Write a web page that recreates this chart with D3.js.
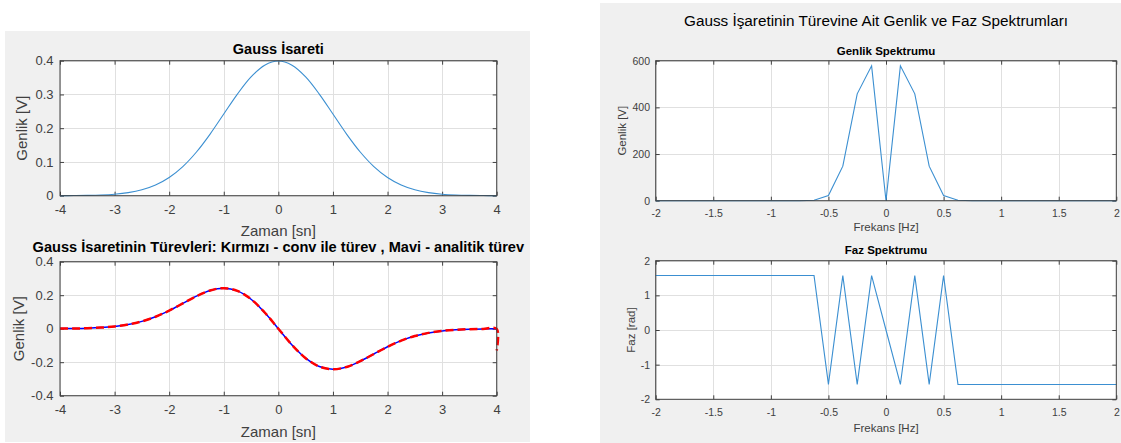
<!DOCTYPE html>
<html>
<head>
<meta charset="utf-8">
<script src="https://cdn.jsdelivr.net/npm/d3@7"></script>
<style>
  html, body { margin: 0; padding: 0; background: #ffffff; }
  svg { display: block; }
  text { font-family: "Liberation Sans", Arial, Helvetica, sans-serif; }
</style>
</head>
<body>
<svg id="chart" width="1121" height="443"></svg>
<script>
// ---- Time-domain samples (seconds) ----
const time = [-4, -3.75, -3.5, -3.25, -3, -2.75, -2.5, -2.25, -2, -1.75, -1.5, -1.25, -1, -0.75, -0.5, -0.25,
              0, 0.25, 0.5, 0.75, 1, 1.25, 1.5, 1.75, 2, 2.25, 2.5, 2.75, 3, 3.25, 3.5, 3.75, 4];

// Gauss signal amplitude [V]
const gaussValues = [0.0001, 0.0004, 0.0009, 0.002, 0.0044, 0.0091, 0.0175, 0.0317, 0.054, 0.0863, 0.1295, 0.1826,
                     0.242, 0.3011, 0.3521, 0.3867, 0.3989, 0.3867, 0.3521, 0.3011, 0.242, 0.1826, 0.1295, 0.0863,
                     0.054, 0.0317, 0.0175, 0.0091, 0.0044, 0.002, 0.0009, 0.0004, 0.0001];

// Analytic derivative (blue)
const analyticDerivative = [0.0005, 0.0013, 0.003, 0.0066, 0.0133, 0.025, 0.0438, 0.0713, 0.108, 0.151, 0.1943, 0.2283,
                            0.242, 0.2259, 0.176, 0.0967, 0, -0.0967, -0.176, -0.2259, -0.242, -0.2283, -0.1943, -0.151,
                            -0.108, -0.0713, -0.0438, -0.025, -0.0133, -0.0066, -0.003, -0.0013, -0.0005];

// Derivative obtained with conv (red, dashed); last sample is the edge value at t = 4
const convTime = [-4, -3.75, -3.5, -3.25, -3, -2.75, -2.5, -2.25, -2, -1.75, -1.5, -1.25, -1, -0.75, -0.5, -0.25,
                  0, 0.25, 0.5, 0.75, 1, 1.25, 1.5, 1.75, 2, 2.25, 2.5, 2.75, 3, 3.25, 3.5, 3.75, 4, 4];
const convDerivative = [0.0005, 0.0013, 0.003, 0.0066, 0.0133, 0.025, 0.0438, 0.0713, 0.108, 0.151, 0.1943, 0.2283,
                        0.242, 0.2259, 0.176, 0.0967, 0, -0.0967, -0.176, -0.2259, -0.242, -0.2283, -0.1943, -0.151,
                        -0.108, -0.0713, -0.0438, -0.025, -0.0133, -0.0066, -0.003, -0.0013, -0.0005, -0.13];

// ---- Frequency-domain samples (Hz) ----
const frequency = [-2, -1.875, -1.75, -1.625, -1.5, -1.375, -1.25, -1.125, -1, -0.875, -0.75, -0.625, -0.5, -0.375,
                   -0.25, -0.125, 0, 0.125, 0.25, 0.375, 0.5, 0.625, 0.75, 0.875, 1, 1.125, 1.25, 1.375, 1.5, 1.625,
                   1.75, 1.875, 2];
const amplitudeSpectrum = [0, 0, 0, 0, 0, 0, 0, 0, 0, 0, 0, 2, 22, 148, 458, 578, 0, 578, 458, 148, 22, 2,
                           0, 0, 0, 0, 0, 0, 0, 0, 0, 0, 0];
const phaseSpectrum = [1.5708, 1.5708, 1.5708, 1.5708, 1.5708, 1.5708, 1.5708, 1.5708, 1.5708, 1.5708, 1.5708, 1.5708,
                       -1.5708, 1.5708, -1.5708, 1.5708, 0, -1.5708, 1.5708, -1.5708, 1.5708, -1.5708,
                       -1.5708, -1.5708, -1.5708, -1.5708, -1.5708, -1.5708, -1.5708, -1.5708, -1.5708, -1.5708, -1.5708];

// ---- Tick values ----
const timeTicks = [-4, -3, -2, -1, 0, 1, 2, 3, 4];
const gaussTicks = [0, 0.1, 0.2, 0.3, 0.4];
const derivTicks = [-0.4, -0.2, 0, 0.2, 0.4];
const freqTicks = [-2, -1.5, -1, -0.5, 0, 0.5, 1, 1.5, 2];
const amplitudeTicks = [0, 200, 400, 600];
const phaseTicks = [-2, -1, 0, 1, 2];

// ---- Text ----
const leftTopTitle = "Gauss İsareti";
const leftBottomTitle = "Gauss İsaretinin Türevleri: Kırmızı - conv ile türev , Mavi - analitik türev";
const rightSuperTitle = "Gauss İşaretinin Türevine Ait Genlik ve Faz Spektrumları";

const svg = d3.select("#chart");
const FIG_BG = "#f0f0f0";
const AX_COLOR = "#404040";
const GRID_COLOR = "#e0e0e0";
const LINE_BLUE = "#3b8fd1";

// figure backgrounds
svg.append("rect").attr("x", 5).attr("y", 31).attr("width", 525).attr("height", 411).attr("fill", FIG_BG);
svg.append("rect").attr("x", 600).attr("y", 3).attr("width", 521).attr("height", 440).attr("fill", FIG_BG);

function makeAxes(cfg) {
  const g = svg.append("g");
  const x = d3.scaleLinear().domain(cfg.xDomain).range([cfg.left, cfg.right]);
  const y = d3.scaleLinear().domain(cfg.yDomain).range([cfg.bottom, cfg.top]);

  g.append("rect")
    .attr("x", cfg.left).attr("y", cfg.top)
    .attr("width", cfg.right - cfg.left).attr("height", cfg.bottom - cfg.top)
    .attr("fill", "#ffffff");

  // grid
  const grid = g.append("g").attr("stroke", GRID_COLOR).attr("stroke-width", 1);
  grid.selectAll("line.gx").data(cfg.xTicks).join("line")
    .attr("x1", d => Math.round(x(d)) + 0.5).attr("x2", d => Math.round(x(d)) + 0.5)
    .attr("y1", cfg.top).attr("y2", cfg.bottom);
  grid.selectAll("line.gy").data(cfg.yTicks).join("line")
    .attr("y1", d => Math.round(y(d)) + 0.5).attr("y2", d => Math.round(y(d)) + 0.5)
    .attr("x1", cfg.left).attr("x2", cfg.right);

  // axes with inward ticks, labelled on bottom and left
  const tl = cfg.tickLen;
  const fmt = cfg.fmt || (d => String(d));
  const styleAxis = (sel) => {
    sel.select(".domain").remove();
    sel.selectAll(".tick line").attr("stroke", AX_COLOR).attr("stroke-width", 1);
    sel.selectAll(".tick text").attr("fill", AX_COLOR).attr("font-size", cfg.tickFont + "px")
      .attr("font-family", '"Liberation Sans", Arial, sans-serif');
  };
  g.append("g").attr("transform", `translate(0,${cfg.bottom})`)
    .call(d3.axisBottom(x).tickValues(cfg.xTicks).tickFormat(fmt).tickSizeInner(-tl).tickSizeOuter(0).tickPadding(cfg.xPad))
    .call(styleAxis);
  g.append("g").attr("transform", `translate(${cfg.left},0)`)
    .call(d3.axisLeft(y).tickValues(cfg.yTicks).tickFormat(fmt).tickSizeInner(-tl).tickSizeOuter(0).tickPadding(cfg.yPad))
    .call(styleAxis);
  g.append("g").attr("transform", `translate(0,${cfg.top})`)
    .call(d3.axisTop(x).tickValues(cfg.xTicks).tickFormat("").tickSizeInner(-tl).tickSizeOuter(0))
    .call(styleAxis);
  g.append("g").attr("transform", `translate(${cfg.right},0)`)
    .call(d3.axisRight(y).tickValues(cfg.yTicks).tickFormat("").tickSizeInner(-tl).tickSizeOuter(0))
    .call(styleAxis);

  const plot = g.append("g");

  // box
  g.append("rect")
    .attr("x", cfg.left).attr("y", cfg.top)
    .attr("width", cfg.right - cfg.left).attr("height", cfg.bottom - cfg.top)
    .attr("fill", "none").attr("stroke", AX_COLOR).attr("stroke-width", 1);

  // title and labels
  g.append("text").attr("x", (cfg.left + cfg.right) / 2).attr("y", cfg.titleY)
    .attr("text-anchor", "middle").attr("dominant-baseline", "central")
    .attr("font-size", cfg.titleFont + "px").attr("font-weight", "bold").attr("fill", "#000")
    .text(cfg.title);
  g.append("text").attr("x", (cfg.left + cfg.right) / 2).attr("y", cfg.xLabelY)
    .attr("text-anchor", "middle").attr("dominant-baseline", "central")
    .attr("font-size", cfg.labelFont + "px").attr("fill", AX_COLOR)
    .text(cfg.xLabel);
  g.append("text")
    .attr("transform", `translate(${cfg.yLabelX},${(cfg.top + cfg.bottom) / 2}) rotate(-90)`)
    .attr("text-anchor", "middle").attr("dominant-baseline", "central")
    .attr("font-size", cfg.labelFont + "px").attr("fill", AX_COLOR)
    .text(cfg.yLabel);

  return { x, y, plot };
}

// ---------- Left figure: Gauss signal ----------
const a1 = makeAxes({
  left: 60, right: 496.7, top: 60.7, bottom: 195.7,
  xDomain: [-4, 4], yDomain: [0, 0.4], xTicks: timeTicks, yTicks: gaussTicks,
  tickLen: 4, tickFont: 13, labelFont: 15, titleFont: 14.5, xPad: 9.5, yPad: 6.5,
  title: leftTopTitle, titleY: 48.5, xLabel: "Zaman [sn]", xLabelY: 230, yLabel: "Genlik [V]", yLabelX: 21.7
});
const smooth = d3.curveCatmullRom.alpha(0.5);
a1.plot.append("path")
  .datum(time.map((t, i) => [t, gaussValues[i]]))
  .attr("fill", "none").attr("stroke", LINE_BLUE).attr("stroke-width", 1.1)
  .attr("d", d3.line().x(d => a1.x(d[0])).y(d => a1.y(d[1])).curve(smooth));

// ---------- Left figure: derivatives ----------
const a2 = makeAxes({
  left: 60, right: 496.7, top: 261.7, bottom: 395.7,
  xDomain: [-4, 4], yDomain: [-0.4, 0.4], xTicks: timeTicks, yTicks: derivTicks,
  tickLen: 4, tickFont: 13, labelFont: 15, titleFont: 14.6, xPad: 9.5, yPad: 6.5,
  title: leftBottomTitle, titleY: 246.5, xLabel: "Zaman [sn]", xLabelY: 431.7, yLabel: "Genlik [V]", yLabelX: 18.3
});
a2.plot.append("path")
  .datum(time.map((t, i) => [t, analyticDerivative[i]]))
  .attr("fill", "none").attr("stroke", "#0000ff").attr("stroke-width", 1.5)
  .attr("d", d3.line().x(d => a2.x(d[0])).y(d => a2.y(d[1])).curve(smooth));
a2.plot.append("path")
  .datum(convTime.map((t, i) => [t, convDerivative[i]]))
  .attr("fill", "none").attr("stroke", "#ff0000").attr("stroke-width", 2.5)
  .attr("stroke-dasharray", "8,4")
  .attr("d", d3.line().x(d => a2.x(d[0])).y(d => a2.y(d[1])).curve(smooth));

// ---------- Right figure ----------
svg.append("text").attr("x", 876).attr("y", 20)
  .attr("text-anchor", "middle").attr("dominant-baseline", "central")
  .attr("font-size", "15.3px").attr("fill", "#000")
  .text(rightSuperTitle);

const a3 = makeAxes({
  left: 655.7, right: 1116.3, top: 60.7, bottom: 200.7,
  xDomain: [-2, 2], yDomain: [0, 600], xTicks: freqTicks, yTicks: amplitudeTicks,
  tickLen: 4, tickFont: 10.5, labelFont: 11.5, titleFont: 11.5, xPad: 9, yPad: 5.7,
  title: "Genlik Spektrumu", titleY: 51, xLabel: "Frekans [Hz]", xLabelY: 227, yLabel: "Genlik [V]", yLabelX: 622.3
});
a3.plot.append("path")
  .datum(frequency.map((f, i) => [f, amplitudeSpectrum[i]]))
  .attr("fill", "none").attr("stroke", LINE_BLUE).attr("stroke-width", 1.1)
  .attr("d", d3.line().x(d => a3.x(d[0])).y(d => a3.y(d[1])));

const a4 = makeAxes({
  left: 655.7, right: 1116.3, top: 260.7, bottom: 399.3,
  xDomain: [-2, 2], yDomain: [-2, 2], xTicks: freqTicks, yTicks: phaseTicks,
  tickLen: 4, tickFont: 10.5, labelFont: 11.5, titleFont: 11.5, xPad: 9.5, yPad: 5.7,
  title: "Faz Spektrumu", titleY: 250, xLabel: "Frekans [Hz]", xLabelY: 427.7, yLabel: "Faz [rad]", yLabelX: 631
});
a4.plot.append("path")
  .datum(frequency.map((f, i) => [f, phaseSpectrum[i]]))
  .attr("fill", "none").attr("stroke", LINE_BLUE).attr("stroke-width", 1.1)
  .attr("d", d3.line().x(d => a4.x(d[0])).y(d => a4.y(d[1])));
</script>
</body>
</html>
